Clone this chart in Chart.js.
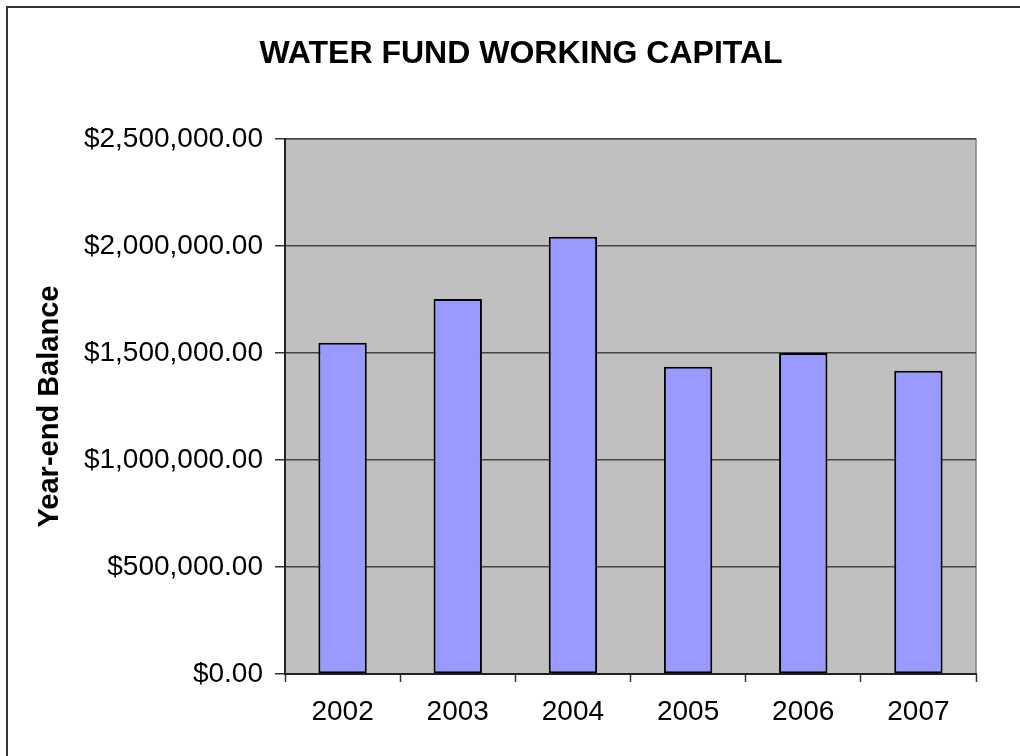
<!DOCTYPE html>
<html>
<head>
<meta charset="utf-8">
<title>Water Fund Working Capital</title>
<script src="https://cdn.jsdelivr.net/npm/chart.js@4/dist/chart.umd.min.js"></script>
<style>
  html, body { margin: 0; padding: 0; background: #ffffff; }
  #wrap { width: 1020px; height: 756px; }
</style>
</head>
<body>
<div id="wrap"><canvas id="chart" width="1020" height="756"></canvas></div>
<script>
// Year-end balances of the water fund
const years = ['2002', '2003', '2004', '2005', '2006', '2007'];
const balances = [1548000, 1752000, 2043000, 1436000, 1500000, 1417000];
const yTicks = [0, 500000, 1000000, 1500000, 2000000, 2500000];
const chartTitle = 'WATER FUND WORKING CAPITAL';

const FONT = "'Liberation Sans', Arial, sans-serif";

function money(v) {
  return '$' + Number(v).toLocaleString('en-US', { minimumFractionDigits: 2, maximumFractionDigits: 2 });
}

// Grey plot background, plot frame, outer chart frame and the heading
const frames = {
  id: 'frames',
  beforeDraw(chart) {
    const { ctx, chartArea: a } = chart;
    ctx.save();
    ctx.fillStyle = '#ffffff';
    ctx.fillRect(0, 0, chart.width, chart.height);
    ctx.fillStyle = '#c0c0c0';
    ctx.fillRect(a.left, a.top, a.right - a.left, a.bottom - a.top);
    ctx.strokeStyle = '#808080';
    ctx.lineWidth = 1.5;
    ctx.beginPath();
    ctx.moveTo(a.left, a.top);
    ctx.lineTo(a.right, a.top);
    ctx.lineTo(a.right, a.bottom);
    ctx.stroke();
    // outer frame
    ctx.strokeStyle = '#333333';
    ctx.lineWidth = 2;
    ctx.beginPath();
    ctx.moveTo(7, chart.height + 2);
    ctx.lineTo(7, 7);
    ctx.lineTo(chart.width + 2, 7);
    ctx.stroke();
    // heading
    ctx.fillStyle = '#000000';
    ctx.font = 'bold 32px ' + FONT;
    ctx.textAlign = 'center';
    ctx.textBaseline = 'middle';
    ctx.fillText(chartTitle, 521, 54);
    ctx.restore();
  }
};

new Chart(document.getElementById('chart'), {
  type: 'bar',
  data: {
    labels: years,
    datasets: [{
      label: 'Year-end Balance',
      data: balances,
      backgroundColor: '#9999ff',
      borderColor: '#000000',
      borderWidth: 2,
      borderSkipped: false,
      categoryPercentage: 1.0,
      barPercentage: 0.42
    }]
  },
  options: {
    responsive: false,
    animation: false,
    devicePixelRatio: 1,
    layout: { padding: { left: 0, right: 44, top: 139, bottom: 0 } },
    plugins: {
      legend: { display: false },
      tooltip: { enabled: false },
      title: { display: false }
    },
    scales: {
      x: {
        offset: true,
        grid: {
          offset: true,
          drawOnChartArea: false,
          drawTicks: true,
          tickLength: 8,
          tickColor: '#333333',
          tickWidth: 1.5
        },
        border: { display: true, color: '#222222', width: 2 },
        ticks: {
          color: '#000000',
          font: { family: FONT, size: 28 },
          padding: 13,
          maxRotation: 0
        },
        afterFit(scale) { scale.height = 82; }
      },
      y: {
        min: 0,
        max: 2500000,
        afterBuildTicks(scale) { scale.ticks = yTicks.map(v => ({ value: v })); },
        grid: {
          color: '#444444',
          lineWidth: 1.5,
          drawTicks: true,
          tickLength: 10,
          tickColor: '#333333'
        },
        border: { display: true, color: '#222222', width: 2 },
        ticks: {
          color: '#000000',
          font: { family: FONT, size: 28 },
          padding: 12,
          callback: v => money(v)
        },
        title: {
          display: true,
          text: 'Year-end Balance',
          color: '#000000',
          font: { family: FONT, size: 29, weight: 'bold' },
          padding: { top: 33, bottom: 0 }
        },
        afterFit(scale) { scale.width = 285; }
      }
    }
  },
  plugins: [frames]
});
</script>
</body>
</html>
